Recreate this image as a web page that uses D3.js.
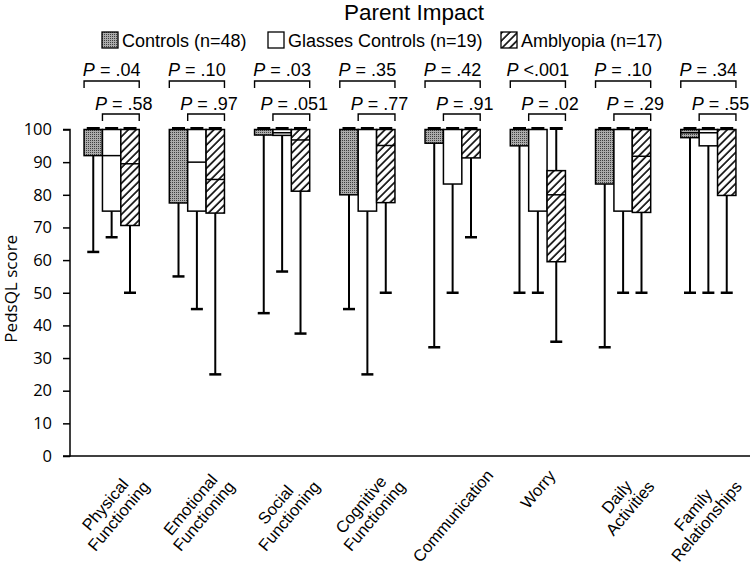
<!DOCTYPE html>
<html>
<head>
<meta charset="utf-8">
<script src="https://cdn.jsdelivr.net/npm/d3@7"></script>
<style>
  html, body { margin: 0; padding: 0; background: #fff; }
  svg { display: block; }
  text { font-family: "Liberation Sans", Arial, sans-serif; fill: #000; }
</style>
</head>
<body>
<svg id="chart" width="750" height="572"></svg>
<script>
// ---------- data ----------
const categories = ["Physical Functioning", "Emotional Functioning", "Social Functioning",
  "Cognitive Functioning", "Communication", "Worry", "Daily Activities", "Family Relationships"];
const categoryLines = [["Physical", "Functioning"], ["Emotional", "Functioning"], ["Social", "Functioning"],
  ["Cognitive", "Functioning"], ["Communication"], ["Worry"], ["Daily", "Activities"], ["Family", "Relationships"]];
const seriesNames = ["Controls (n=48)", "Glasses Controls (n=19)", "Amblyopia (n=17)"];
// each entry: [min, q1, median, q3, max]
const controls = [
  [62.5, 92, 100, 100, 100], [55, 77.5, 100, 100, 100], [43.75, 98.3, 100, 100, 100], [45, 80, 100, 100, 100],
  [33.3, 95.8, 100, 100, 100], [50, 95, 100, 100, 100], [33.3, 83.3, 100, 100, 100], [50, 97.5, 99, 100, 100]];
const glasses = [
  [67, 75, 92, 100, 100], [45, 75, 90, 100, 100], [56.5, 98.2, 99, 100, 100], [25, 75, 100, 100, 100],
  [50, 83.3, 100, 100, 100], [50, 75, 100, 100, 100], [50, 75, 100, 100, 100], [50, 95, 99, 100, 100]];
const amblyopia = [
  [50, 70.6, 89.5, 100, 100], [25, 74.4, 84.7, 100, 100], [37.5, 81.1, 96.8, 100, 100], [50, 77.6, 95.1, 100, 100],
  [67, 91.3, 100, 100, 100], [35, 59.5, 80, 87.4, 100], [50, 74.6, 91.8, 100, 100], [50, 79.8, 100, 100, 100]];
const pTopOp = ["=", "=", "=", "=", "=", "<", "=", "="];
const pTop = [".04", ".10", ".03", ".35", ".42", ".001", ".10", ".34"];
const pBottom = [".58", ".97", ".051", ".77", ".91", ".02", ".29", ".55"];
const yTicks = [0, 10, 20, 30, 40, 50, 60, 70, 80, 90, 100];

// ---------- setup ----------
const svg = d3.select("#chart");
const defs = svg.append("defs");
const dots = defs.append("pattern").attr("id", "dots").attr("patternUnits", "userSpaceOnUse")
  .attr("width", 2).attr("height", 2);
dots.append("rect").attr("width", 2).attr("height", 2).attr("fill", "#ababab");
dots.append("rect").attr("width", 1).attr("height", 1).attr("fill", "#404040");
const hatch = defs.append("pattern").attr("id", "hatch").attr("patternUnits", "userSpaceOnUse")
  .attr("width", 5.5).attr("height", 5.5).attr("patternTransform", "rotate(45)");
hatch.append("rect").attr("width", 5.5).attr("height", 5.5).attr("fill", "#fff");
hatch.append("line").attr("x1", 1).attr("y1", 0).attr("x2", 1).attr("y2", 5.5)
  .attr("stroke", "#000").attr("stroke-width", 1.6);
const fills = ["url(#dots)", "#fff", "url(#hatch)"];
const seriesData = [controls, glasses, amblyopia];

const x = d3.scaleBand().domain(categories).range([70, 750]).paddingInner(0.353).paddingOuter(0.165);
const xs = d3.scaleBand().domain([0, 1, 2]).range([0, x.bandwidth()]).padding(0);
const y = d3.scaleLinear().domain([0, 100]).range([456, 129.5]);

// ---------- title & legend ----------
svg.append("text").attr("x", 414).attr("y", 20).attr("text-anchor", "middle")
  .style("font-size", "22.5px").text("Parent Impact");
const legendX = [102, 268, 501];
seriesNames.forEach((n, i) => {
  const g = svg.append("g").attr("transform", `translate(${legendX[i]},32)`);
  g.append("rect").attr("width", 16).attr("height", 16).attr("fill", fills[i])
    .attr("stroke", "#000").attr("stroke-width", 1.3);
  g.append("text").attr("x", 20).attr("y", 14.5).style("font-size", "18px").text(n);
});

// ---------- axes ----------
const yAxis = d3.axisLeft(y).tickValues(yTicks).tickSize(7).tickPadding(11);
const gy = svg.append("g").attr("transform", "translate(70,0)").call(yAxis);
gy.selectAll("path, line").attr("stroke", "#000").attr("stroke-width", 1.5);
gy.select(".domain").attr("d", `M-7,${y(100)}H0V${y(0)}H-7`);
gy.selectAll("text").style("font-family", "'Open Sans', sans-serif").style("font-size", "16.5px");
svg.append("line").attr("x1", 70).attr("x2", 750).attr("y1", y(0)).attr("y2", y(0))
  .attr("stroke", "#000").attr("stroke-width", 1.5);
svg.append("text").attr("transform", `translate(17,${(y(0) + y(100)) / 2 - 4}) rotate(-90)`)
  .attr("text-anchor", "middle").style("font-family", "'Open Sans', sans-serif").style("font-size", "17px")
  .text("PedsQL score");

// category labels: rotated block centred under its group, top just below the axis
categories.forEach((c, i) => {
  const cx = x(c) + x.bandwidth() / 2;
  const g = svg.append("g");
  const t = g.append("text").attr("transform", "rotate(-50)")
    .attr("text-anchor", "middle").style("font-size", "16.5px");
  const lines = categoryLines[i];
  lines.forEach((l, j) => {
    t.append("tspan").attr("x", 0).attr("y", (j - (lines.length - 1) / 2) * 17.5).text(l);
  });
  const bb = g.node().getBBox();
  let tx = cx - (bb.x + bb.width / 2);
  if (tx + bb.x + bb.width > 745) tx = 745 - (bb.x + bb.width);
  g.attr("transform", `translate(${tx},${466 - bb.y})`);
});

// ---------- boxes ----------
const plot = svg.append("g");
categories.forEach((c, ci) => {
  seriesData.forEach((s, si) => {
    const [mn, q1, md, q3, mx] = s[ci];
    const x0 = x(c) + xs(si), w = xs.bandwidth(), cx = x0 + w / 2;
    const g = plot.append("g");
    g.append("line").attr("x1", cx).attr("x2", cx).attr("y1", y(q1)).attr("y2", y(mn))
      .attr("stroke", "#000").attr("stroke-width", 2);
    g.append("line").attr("x1", cx - 6).attr("x2", cx + 6).attr("y1", y(mn)).attr("y2", y(mn))
      .attr("stroke", "#000").attr("stroke-width", 2.5);
    if (mx > q3) {
      g.append("line").attr("x1", cx).attr("x2", cx).attr("y1", y(q3)).attr("y2", y(mx))
        .attr("stroke", "#000").attr("stroke-width", 2);
    }
    g.append("rect").attr("x", x0).attr("y", y(q3)).attr("width", w).attr("height", Math.max(y(q1) - y(q3), 0.5))
      .attr("fill", fills[si]).attr("stroke", "#000").attr("stroke-width", 1.5);
    if (md < q3 && md > q1) {
      g.append("line").attr("x1", x0).attr("x2", x0 + w).attr("y1", y(md)).attr("y2", y(md))
        .attr("stroke", "#000").attr("stroke-width", 1.5);
    }
    g.append("line").attr("x1", cx - 6.5).attr("x2", cx + 6.5).attr("y1", y(mx) - 1).attr("y2", y(mx) - 1)
      .attr("stroke", "#000").attr("stroke-width", 3);
  });

  const gx0 = x(c), gx1 = x(c) + x.bandwidth();
  const bx0 = x(c) + xs(1);
  const br = plot.append("g").attr("fill", "none").attr("stroke", "#000").attr("stroke-width", 1.4);
  br.append("path").attr("d", `M${gx0},88V81H${gx1}V88`);
  br.append("path").attr("d", `M${bx0},121V114H${gx1}V121`);
  const t1 = plot.append("text").attr("x", (gx0 + gx1) / 2).attr("y", 76).attr("text-anchor", "middle")
    .style("font-size", "18px");
  t1.append("tspan").style("font-style", "italic").text("P");
  t1.append("tspan").text(pTopOp[ci] === "=" ? " = " + pTop[ci] : " <" + pTop[ci]);
  const t2 = plot.append("text").attr("x", (bx0 + gx1) / 2 + 3).attr("y", 110).attr("text-anchor", "middle")
    .style("font-size", "18px");
  t2.append("tspan").style("font-style", "italic").text("P");
  t2.append("tspan").text(" = " + pBottom[ci]);
});
</script>
</body>
</html>
